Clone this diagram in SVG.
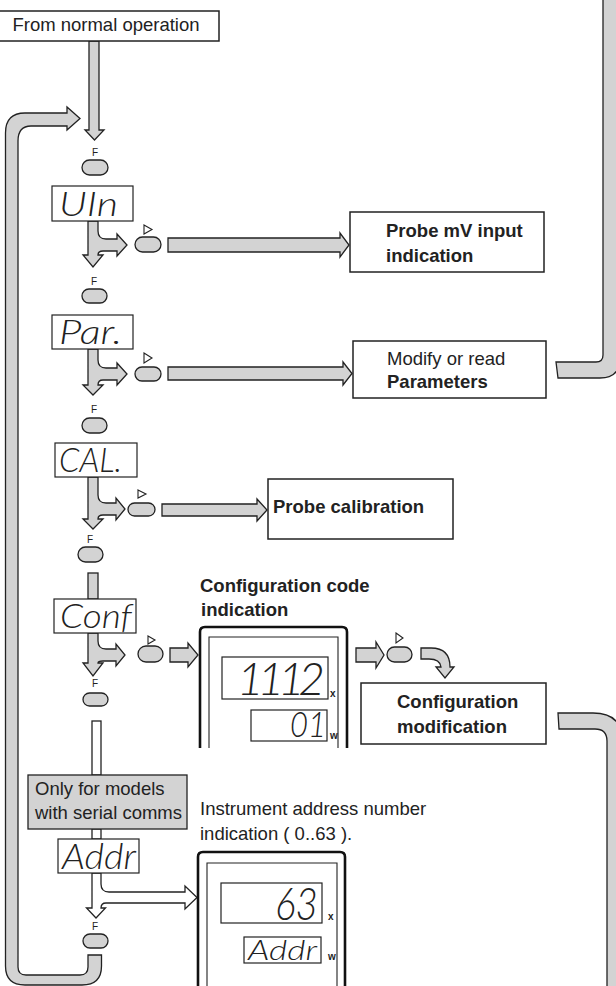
<svg xmlns="http://www.w3.org/2000/svg" width="616" height="986" viewBox="0 0 616 986">
<style>
.g{fill:#d3d3d3;stroke:#222;stroke-width:1.3;stroke-linejoin:miter}
.w{fill:#fff;stroke:#222;stroke-width:1.3}
.btn{fill:#d3d3d3;stroke:#222;stroke-width:1.3}
.box{fill:#fff;stroke:#222;stroke-width:1.5}
.lcdbox{fill:#fff;stroke:#222;stroke-width:1.2}
.frame{fill:none;stroke:#111;stroke-width:2.6}
.inner{fill:none;stroke:#222;stroke-width:1.1}
.tri{fill:#fff;stroke:#222;stroke-width:1.1}
.t{font-family:"Liberation Sans",Arial,sans-serif;font-size:18.5px;fill:#222}
.b{font-weight:bold}
.f{font-family:"Liberation Sans",Arial,sans-serif;font-size:10px;fill:#222;text-anchor:middle}
.lcd{font-family:Lato,"Liberation Sans",sans-serif;font-style:italic;font-weight:300;fill:#222}
.xw{font-family:"Liberation Sans",Arial,sans-serif;font-size:10px;font-weight:bold;fill:#222}
</style>

<g id="connectors">
  <path class="g" d="M89,41 L99,41 L99,130 L104,130 L94.5,140 L85,130 L89,130 Z"/>
  <path class="g" d="M88,955 L88,967 Q88,975 80,975 L26,975 Q18,975 18,967 L18,141 Q18,126 31,126 L67,126 L67,130 L80,118.5 L67,107 L67,113 L25,113 Q5.5,113 5.5,133 L5.5,966 Q5.5,985 25,985 L82,985 Q101.5,985 101.5,966 L101.5,955 Z"/>
  <path class="g" d="M88,221 L98,221 L98,231 Q98,239 106,239 L117,239 L117,234 L127,245 L117,256 L117,251 L103,251 Q98,251 98,255 L103,255 L93,267 L83,255 L88,255 Z"/>
  <path class="g" d="M168,238 L340,238 L340,233 L349,245 L340,257 L340,252 L168,252 Z"/>
  <path class="g" d="M88,349 L98,349 L98,360 Q98,368 106,368 L117,368 L117,363 L127,374 L117,385 L117,380 L103,380 Q98,380 98,385 L103,385 L93,395 L83,385 L88,385 Z"/>
  <path class="g" d="M168,367 L343,367 L343,362 L352,373.5 L343,385 L343,380 L168,380 Z"/>
  <path class="g" d="M556,362 L596,362 Q603,362 603,355 L603,-2 L620,-2 L620,358 Q620,378 600,378 L558,378 Z"/>
  <path class="g" d="M88,477 L98,477 L98,495 Q98,503 106,503 L116,503 L116,498 L125,509 L116,520 L116,515 L103,515 Q98,515 98,519 L103,519 L93,529 L83,519 L88,519 Z"/>
  <path class="g" d="M162,504 L257,504 L257,499 L267,510 L257,521 L257,516 L162,516 Z"/>
  <rect class="g" x="88" y="573" width="10" height="26"/>
  <path class="g" d="M88,633 L98,633 L98,641 Q98,649 106,649 L116,649 L116,644 L125,655 L116,666 L116,661 L103,661 Q98,661 98,663 L103,663 L93,676 L83,663 L88,663 Z"/>
  <path class="g" d="M170,648 L188,648 L188,643 L198,655 L188,667 L188,662 L170,662 Z"/>
  <path class="g" d="M356,648 L376,648 L376,642 L384,655 L376,668 L376,662 L356,662 Z"/>
  <path class="g" d="M421,648 L431,648 Q450,648 450,667 L454,667 L445,678 L436,667 L441,667 Q440,659 429,659 L421,659 Z"/>
  <path class="g" d="M558,713 L593,713 Q623,713 623,743 L623,990 L607,990 L607,741 Q607,729 595,729 L559,729 Z"/>
  <rect class="w" x="92" y="721" width="9" height="54"/>
  <rect class="w" x="92" y="829" width="9" height="10"/>
  <path class="w" d="M92,873 L101,873 L101,884 Q101,892 109,892 L185,892 L185,886 L197,897.5 L185,909 L185,903 L106,903 Q101,903 101,908 L105.5,908 L96,918 L86.5,908 L92,908 Z"/>
</g>

<g id="start">
  <rect class="box" x="-2" y="11" width="221" height="30"/>
  <text class="t" x="106" y="31" text-anchor="middle" font-size="18">From normal operation</text>
</g>

<g id="btnF1"><text class="f" x="95" y="156">F</text><rect class="btn" x="82" y="160" width="26" height="15" rx="7.5"/></g>
<g id="dispUIn"><rect class="lcdbox" x="52" y="186" width="81" height="35"/><text class="lcd" x="59" y="216" font-size="33" textLength="59" lengthAdjust="spacingAndGlyphs">UIn</text></g>
<g id="btnR1"><polygon class="tri" points="144,225 152,229.5 144,234"/><rect class="btn" x="135" y="237" width="26" height="15" rx="7.5"/></g>
<g id="probeMV"><rect class="box" x="350" y="212" width="194" height="60"/><text class="t b" x="386" y="237">Probe mV input</text><text class="t b" x="386" y="262">indication</text></g>

<g id="btnF2"><text class="f" x="94" y="285">F</text><rect class="btn" x="82" y="289" width="25" height="14" rx="7"/></g>
<g id="dispPar"><rect class="lcdbox" x="52" y="315" width="81" height="34"/><text class="lcd" x="59" y="344" font-size="33" textLength="63" lengthAdjust="spacingAndGlyphs">Par.</text></g>
<g id="btnR2"><polygon class="tri" points="144,353 152,358 144,363"/><rect class="btn" x="135" y="367" width="26" height="14" rx="7"/></g>
<g id="params"><rect class="box" x="353" y="341" width="193" height="57"/><text class="t" x="387" y="365">Modify or read</text><text class="t b" x="387" y="388">Parameters</text></g>

<g id="btnF3"><text class="f" x="94" y="413">F</text><rect class="btn" x="82" y="418" width="25" height="15" rx="7.5"/></g>
<g id="dispCAL"><rect class="lcdbox" x="55" y="443" width="82" height="34"/><text class="lcd" x="59" y="472" font-size="34" textLength="63" lengthAdjust="spacingAndGlyphs">CAL.</text></g>
<g id="btnR3"><polygon class="tri" points="138,490 146,494 138,498"/><rect class="btn" x="128" y="503" width="27" height="13" rx="6.5"/></g>
<g id="probeCal"><rect class="box" x="268" y="479" width="185" height="60"/><text class="t b" x="273" y="513">Probe calibration</text></g>

<g id="btnF4"><text class="f" x="90" y="543">F</text><rect class="btn" x="78" y="547" width="25" height="15" rx="7.5"/></g>
<g id="dispConf"><rect class="lcdbox" x="54" y="599" width="82" height="34"/><text class="lcd" x="60" y="628" font-size="34" textLength="72" lengthAdjust="spacingAndGlyphs">Conf</text></g>
<g id="btnR4"><polygon class="tri" points="148,636 155,640 148,644"/><rect class="btn" x="138" y="646" width="25" height="16" rx="8"/></g>

<g id="confCode">
  <text class="t b" x="200" y="592">Configuration code</text>
  <text class="t b" x="201" y="616">indication</text>
  <path class="frame" d="M200,748 L200,632 Q200,627 205,627 L342,627 Q347,627 347,632 L347,748"/>
  <path class="inner" d="M209,748 L209,637 L338,637 L338,748"/>
  <rect class="lcdbox" x="222" y="657" width="106" height="42"/>
  <text class="lcd" x="237" y="695" font-size="46" textLength="88" lengthAdjust="spacing">1112</text>
  <text class="xw" x="330" y="697">x</text>
  <rect class="lcdbox" x="251" y="710" width="76" height="31"/>
  <text class="lcd" x="290" y="737" font-size="35" textLength="36" lengthAdjust="spacingAndGlyphs">01</text>
  <text class="xw" x="330" y="739">w</text>
</g>

<g id="btnR5"><polygon class="tri" points="396,633 403,638 396,643"/><rect class="btn" x="387" y="647" width="25" height="15" rx="7.5"/></g>
<g id="confMod"><rect class="box" x="361" y="683" width="185" height="61"/><text class="t b" x="397" y="708">Configuration</text><text class="t b" x="397" y="733">modification</text></g>

<g id="btnF5"><text class="f" x="95" y="687">F</text><rect class="btn" x="83" y="693" width="25" height="13" rx="6.5"/></g>
<g id="serialNote"><rect x="28" y="775" width="159" height="54" fill="#d3d3d3" stroke="#222" stroke-width="1.3"/><text class="t" x="35" y="795">Only for models</text><text class="t" x="35" y="819">with serial comms</text></g>
<g id="dispAddr"><rect class="lcdbox" x="58" y="839" width="81" height="34"/><text class="lcd" x="62" y="869" font-size="36" textLength="74" lengthAdjust="spacingAndGlyphs">Addr</text></g>

<g id="addrInd">
  <text class="t" x="200" y="815">Instrument address number</text>
  <text class="t" x="200" y="840">indication ( 0..63 ).</text>
  <path class="frame" d="M198,990 L198,857 Q198,852 203,852 L340,852 Q345,852 345,857 L345,990"/>
  <path class="inner" d="M207,990 L207,863 L337,863 L337,990"/>
  <rect class="lcdbox" x="221" y="883" width="101" height="40"/>
  <text class="lcd" x="275" y="920" font-size="46" textLength="43" lengthAdjust="spacingAndGlyphs">63</text>
  <text class="xw" x="328" y="920">x</text>
  <rect class="lcdbox" x="244" y="937" width="77" height="26"/>
  <text class="lcd" x="248" y="960" font-size="28" textLength="69" lengthAdjust="spacingAndGlyphs">Addr</text>
  <text class="xw" x="328" y="960">w</text>
</g>

<g id="btnF6"><text class="f" x="95" y="930">F</text><rect class="btn" x="83" y="934" width="25" height="14" rx="7"/></g>
</svg>
